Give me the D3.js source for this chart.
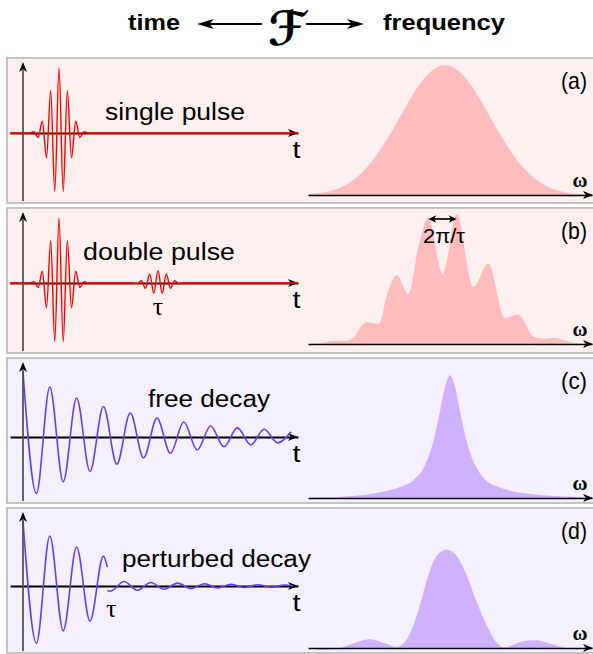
<!DOCTYPE html>
<html>
<head>
<meta charset="utf-8">
<script src="https://cdn.jsdelivr.net/npm/d3@7"></script>
<style>
  html, body { margin: 0; padding: 0; background: #ffffff; }
  svg { display: block; }
</style>
</head>
<body>
<svg id="chart" width="593" height="654"></svg>
<script>
// ---------------- data ----------------
const panelNames = ["(a)", "(b)", "(c)", "(d)"];
const timeLabels = ["single pulse", "double pulse", "free decay", "perturbed decay"];
const headerLeft = "time";
const headerRight = "frequency";
const fourierSymbol = "\u2131";
const delayLabel = "\u03c4";
const spacingLabel = "2\u03c0/\u03c4";
const timeAxisLabel = "t";
const freqAxisLabel = "\u03c9";

// main pulse: extrema of the oscillation (time, field amplitude)
const pulseT = [0.68, 1.10, 1.52, 1.93, 2.35, 2.77, 3.18, 3.60, 4.02, 4.43, 4.85, 5.27, 5.68, 6.10, 6.52];
const pulseV = [0, 0.02, -0.07, 0.18, -0.38, 0.65, -0.90, 1.00, -0.90, 0.65, -0.38, 0.18, -0.07, 0.02, 0];

// delayed weak replica at time tau
const echoT = [11.00, 11.42, 11.83, 12.25, 12.67, 13.08, 13.50, 13.92, 14.33, 14.75, 15.17, 15.58, 16.00];
const echoV = [0, -0.012, 0.035, -0.08, 0.14, -0.16, 0.19, -0.16, 0.14, -0.08, 0.035, -0.012, 0];

// free induction decay extrema
const decayT = [0, 1.34, 2.68, 4.02, 5.36, 6.70, 8.04, 9.38, 10.72, 12.06, 13.40, 14.74, 16.08, 17.42, 18.76, 20.10, 21.44, 22.78, 24.12, 25.46, 26.80];
const decayV = [1.00, -0.87, 0.77, -0.69, 0.60, -0.53, 0.47, -0.42, 0.37, -0.32, 0.29, -0.25, 0.23, -0.20, 0.17, -0.15, 0.14, -0.12, 0.12, -0.09, 0.08];

// perturbed decay: before and after the perturbation at tau
const pertT1 = [0, 1.34, 2.68, 4.02, 5.36, 6.70, 8.04, 8.43];
const pertV1 = [1.00, -0.88, 0.77, -0.69, 0.60, -0.54, 0.46, 0.29];
const pertT2 = [8.43, 8.76, 10.10, 11.44, 12.78, 14.12, 15.46, 16.80, 18.14, 19.48, 20.82, 22.16, 23.50, 24.84, 26.18, 27.00];
const pertV2 = [-0.07, -0.08, 0.07, -0.065, 0.055, -0.05, 0.045, -0.04, 0.035, -0.03, 0.027, -0.024, 0.02, -0.018, 0.015, 0];

// spectra (frequency, spectral intensity)
const specAw = [0, 0.2, 1.7, 3.2, 4.7, 6.2, 7.7, 9.2, 10.7, 12.2, 13.7, 15.2, 16.7, 18.2, 19.7, 21.2, 22.7, 24.2, 25.7, 27.2, 28.4];
const specAv = [0, 0.008, 0.022, 0.055, 0.125, 0.24, 0.405, 0.60, 0.80, 0.945, 1.00, 0.945, 0.80, 0.60, 0.405, 0.24, 0.125, 0.055, 0.022, 0.008, 0.003];

const specBw = [0, 1.2, 2.53, 3.53, 4.53, 5.37, 5.87, 6.53, 7.10, 7.87, 8.87, 10.03, 11.03, 12.03, 13.47, 14.87, 16.53, 18.03, 19.70, 21.03, 22.53, 23.53, 24.70, 26.20, 27.53, 28.4];
const specBv = [0, 0.005, 0.023, 0.023, 0.05, 0.14, 0.17, 0.16, 0.155, 0.37, 0.53, 0.385, 0.74, 0.97, 0.54, 1.00, 0.44, 0.62, 0.20, 0.225, 0.06, 0.04, 0.046, 0.015, 0, 0];

const specCw = [0, 2.5, 5.87, 7.53, 9.2, 10.53, 11.53, 12.2, 12.7, 13.2, 13.7, 14.2, 14.7, 15.2, 15.7, 16.2, 16.87, 17.87, 19.2, 22.53, 27.53, 28.4];
const specCv = [0, 0.006, 0.027, 0.049, 0.084, 0.137, 0.226, 0.35, 0.487, 0.667, 0.855, 0.944, 0.855, 0.667, 0.487, 0.35, 0.23, 0.13, 0.08, 0.028, 0.004, 0];

const specDw = [0, 1.53, 3.2, 4.7, 6.2, 7.7, 8.87, 10.2, 11.2, 12.03, 12.87, 13.87, 14.87, 15.87, 16.87, 17.87, 18.87, 19.7, 21.2, 22.7, 24.2, 25.87, 27.2, 28.4];
const specDv = [0, -0.015, 0, 0.041, 0.067, 0.036, 0.008, 0.11, 0.33, 0.56, 0.71, 0.756, 0.71, 0.56, 0.354, 0.175, 0.041, 0.005, 0.046, 0.059, 0.033, 0, -0.01, -0.005];

// ---------------- layout & style ----------------
const svg = d3.select("#chart");
const panelTops = [58, 208, 358, 508];
const panelH = 145;
const timeAxisOffset = [75, 75, 79, 78];
const freqBaseOffset = [137, 136, 140, 140];
const labelPos = [
  { x: 105, dy: 62, w: 140 },
  { x: 83, dy: 52, w: 152 },
  { x: 148, dy: 48.7, w: 122 },
  { x: 122, dy: 58.7, w: 189 }
];
const bgColors = ["#fff0f0", "#fff0f0", "#f5f0ff", "#f5f0ff"];
const fillColors = ["#ffbdbd", "#ffbdbd", "#cfb2ff", "#cfb2ff"];
const lineColors = ["#ff0000", "#ff0000", "#6440f2", "#6440f2"];
const sans = "Liberation Sans, Arial, Helvetica, sans-serif";
const serif = "Liberation Serif, Times New Roman, serif";

const zip = (a, b) => a.map((v, i) => [v, b[i]]);

// time-domain curves, one list of segments per panel
const timeSeries = [
  [[[-1.3, 0], ...zip(pulseT, pulseV), [27.5, 0]]],
  [[[-1.3, 0], ...zip(pulseT, pulseV), ...zip(echoT, echoV), [27.5, 0]]],
  [zip(decayT, decayV)],
  [zip(pertT1, pertV1), zip(pertT2, pertV2)]
];
const spectra = [zip(specAw, specAv), zip(specBw, specBv), zip(specCw, specCv), zip(specDw, specDv)];

const tx = d3.scaleLinear().domain([-1.3, 27.5]).range([10, 298]);
const fx = d3.scaleLinear().domain([0, 28.4]).range([308, 592]);

function arrowHead(g, x, y, dir, len, half) {
  let p;
  if (dir === "right") p = [[x, y], [x - len, y - half], [x - len * 0.72, y], [x - len, y + half]];
  else if (dir === "left") p = [[x, y], [x + len, y - half], [x + len * 0.72, y], [x + len, y + half]];
  else p = [[x, y], [x - half, y + len], [x, y + len * 0.72], [x + half, y + len]];
  g.append("path").attr("d", "M" + p.map(q => q.join(",")).join("L") + "Z").attr("fill", "#000");
}

// ---------------- header ----------------
const header = svg.append("g");
header.append("text").attr("x", 128).attr("y", 30).text(headerLeft)
  .attr("font-family", sans).attr("font-weight", "bold")
  .attr("font-size", 22).attr("textLength", 52).attr("lengthAdjust", "spacingAndGlyphs");
header.append("text").attr("x", 383).attr("y", 30).text(headerRight)
  .attr("font-family", sans).attr("font-weight", "bold")
  .attr("font-size", 22).attr("textLength", 122).attr("lengthAdjust", "spacingAndGlyphs");
header.append("line").attr("x1", 208).attr("x2", 262).attr("y1", 24).attr("y2", 24)
  .attr("stroke", "#000").attr("stroke-width", 2);
arrowHead(header, 197, 24, "left", 17, 5);
header.append("line").attr("x1", 306).attr("x2", 352).attr("y1", 24).attr("y2", 24)
  .attr("stroke", "#000").attr("stroke-width", 2);
arrowHead(header, 364, 24, "right", 17, 5);
header.append("text").attr("x", 287).attr("y", 45).attr("text-anchor", "middle")
  .text(fourierSymbol)
  .attr("font-family", "DejaVu Serif, DejaVu Sans, serif").attr("font-weight", "bold")
  .attr("font-size", 47);

// ---------------- panels ----------------
panelTops.forEach((top, i) => {
  const g = svg.append("g");
  const axisY = top + timeAxisOffset[i];
  const base = top + freqBaseOffset[i];
  const ay = d3.scaleLinear().domain([-1, 1]).range([axisY + 65, axisY - 65]);
  const sy = d3.scaleLinear().domain([0, 1]).range([base, base - 130]);

  g.append("rect").attr("x", 7).attr("y", top).attr("width", 600).attr("height", panelH)
    .attr("fill", bgColors[i]).attr("stroke", "#c4c4c4").attr("stroke-width", 2);

  // spectrum
  const area = d3.area().x(d => fx(d[0])).y0(base).y1(d => sy(d[1])).curve(d3.curveMonotoneX);
  g.append("path").datum(spectra[i]).attr("d", area).attr("fill", fillColors[i]);

  // frequency axis
  const fAxis = g.append("g").attr("transform", `translate(0,${base})`)
    .call(d3.axisBottom(fx).tickValues([]).tickSizeOuter(0));
  fAxis.select(".domain").attr("stroke", "#000").attr("stroke-width", 1.7);
  arrowHead(g, 593, base, "right", 10, 4);
  g.append("text").attr("x", 580).attr("y", base - 8).attr("text-anchor", "middle")
    .text(freqAxisLabel).attr("font-family", serif).attr("font-weight", "bold")
    .attr("font-size", 20).attr("textLength", 15).attr("lengthAdjust", "spacingAndGlyphs");

  // time axis
  const tAxis = g.append("g").attr("transform", `translate(0,${axisY})`)
    .call(d3.axisBottom(tx).tickValues([]).tickSizeOuter(0));
  tAxis.select(".domain").attr("stroke", i < 2 ? "#5a0000" : "#000").attr("stroke-width", 1.9);
  arrowHead(g, 298, axisY, "right", 10, 4);

  // time-domain signal
  const line = d3.line().x(d => tx(d[0])).y(d => ay(d[1])).curve(d3.curveMonotoneX);
  timeSeries[i].forEach(seg => {
    g.append("path").datum(seg).attr("d", line).attr("fill", "none")
      .attr("stroke", lineColors[i]).attr("stroke-width", i < 2 ? 1.4 : 1.6);
  });

  // vertical amplitude axis
  g.append("line").attr("x1", tx(0)).attr("x2", tx(0)).attr("y1", top + 12).attr("y2", top + 143)
    .attr("stroke", "#4a4a4a").attr("stroke-width", 1.7);
  arrowHead(g, tx(0), top + 4, "up", 10, 4);

  g.append("text").attr("x", 296.5).attr("y", axisY + 24.5).attr("text-anchor", "middle")
    .text(timeAxisLabel).attr("font-family", sans)
    .attr("font-size", 24).attr("textLength", 8).attr("lengthAdjust", "spacingAndGlyphs");

  // panel labels
  g.append("text").attr("x", labelPos[i].x).attr("y", top + labelPos[i].dy).text(timeLabels[i])
    .attr("font-family", sans).attr("font-size", 23)
    .attr("fill", "#000")
    .attr("textLength", labelPos[i].w).attr("lengthAdjust", "spacingAndGlyphs");
  g.append("text").attr("x", 561).attr("y", top + 31).text(panelNames[i])
    .attr("font-family", sans).attr("font-size", 24)
    .attr("fill", "#000")
    .attr("textLength", 26).attr("lengthAdjust", "spacingAndGlyphs");

  // delay marker
  if (i === 1) {
    g.append("text").attr("x", tx(echoT[6])).attr("y", axisY + 32).attr("text-anchor", "middle")
      .text(delayLabel).attr("font-family", serif).attr("font-size", 26);
    // spacing between the two central fringes
    const p1 = specBw[13], p2 = specBw[15];
    const yA = top + 11;
    g.append("line").attr("x1", fx(p1) + 4).attr("x2", fx(p2) - 4).attr("y1", yA).attr("y2", yA)
      .attr("stroke", "#000").attr("stroke-width", 1.7);
    arrowHead(g, fx(p1), yA, "left", 8, 3.8);
    arrowHead(g, fx(p2), yA, "right", 8, 3.8);
    g.append("text").attr("x", 423).attr("y", top + 35).text(spacingLabel)
      .attr("font-family", sans).attr("font-size", 20)
      .attr("fill", "#000")
      .attr("textLength", 42).attr("lengthAdjust", "spacingAndGlyphs");
  }
  if (i === 3) {
    g.append("text").attr("x", tx(pertT2[0]) + 4).attr("y", axisY + 31).attr("text-anchor", "middle")
      .text(delayLabel).attr("font-family", serif).attr("font-size", 26);
  }
});
</script>
</body>
</html>
